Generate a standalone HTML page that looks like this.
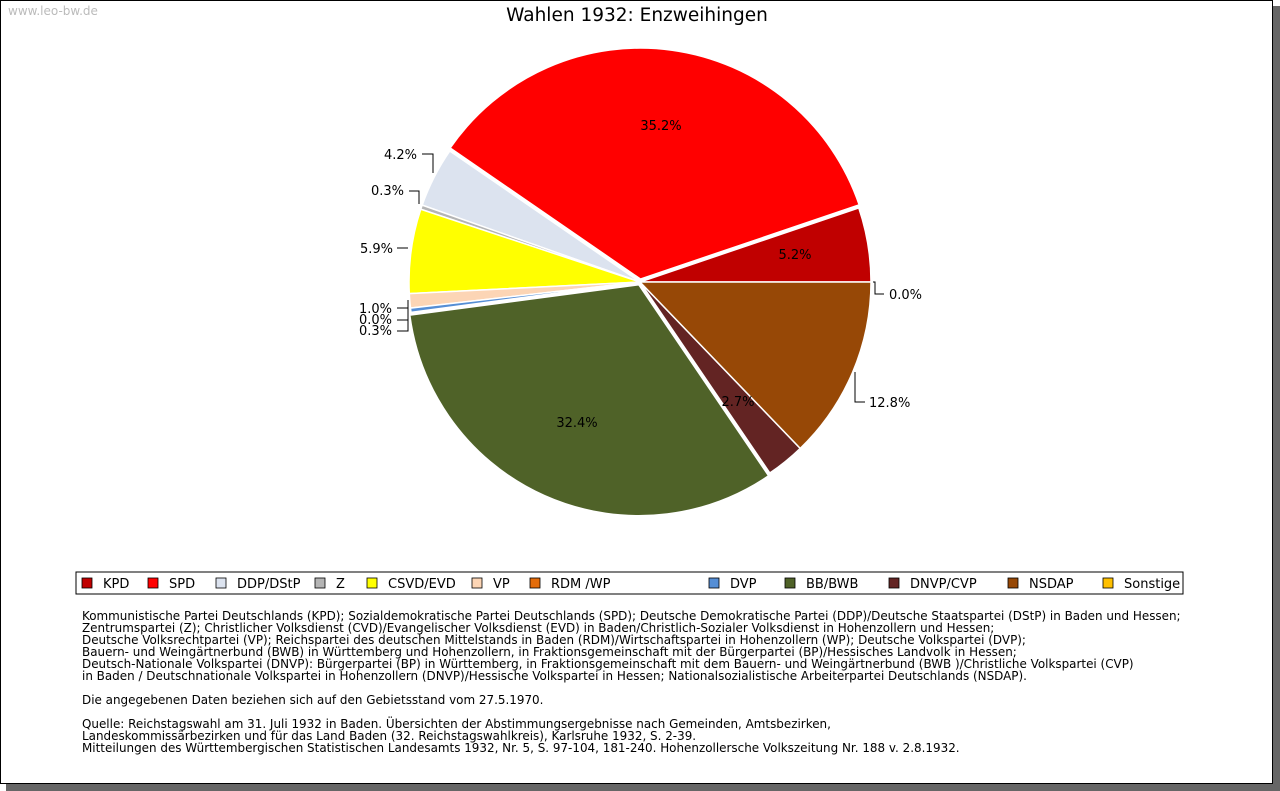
<!DOCTYPE html>
<html><head><meta charset="utf-8"><style>
body{margin:0;background:#fff;width:1280px;height:791px;overflow:hidden;position:relative;font-family:"DejaVu Sans","Liberation Sans",sans-serif}
#frame{position:absolute;left:0;top:0;width:1271px;height:782px;border:1px solid #000;background:#fff}
#shadow-r{position:absolute;left:1273px;top:6px;width:7px;height:785px;background:#666}
#shadow-b{position:absolute;left:6px;top:784px;width:1274px;height:7px;background:#666}
.notes{position:absolute;left:82px;top:610px;font-size:11.95px;line-height:12px;color:#000;white-space:pre}
</style></head><body>
<div id="shadow-r"></div>
<div id="shadow-b"></div>
<div id="frame"></div>
<svg id="chart" width="1280" height="791" style="position:absolute;left:0;top:0">
<text x="8" y="15" font-size="12" fill="#bbb" font-family="DejaVu Sans,sans-serif">www.leo-bw.de</text>
<text x="637" y="21" font-size="18.5" text-anchor="middle" font-family="DejaVu Sans,sans-serif">Wahlen 1932: Enzweihingen</text>
<g id="slices"></g><g id="labels" font-size="13" font-family="DejaVu Sans,sans-serif"></g>
<rect x="76" y="572" width="1107" height="22" fill="#fff" stroke="#000"/>
<g id="legend" font-size="13" font-family="DejaVu Sans,sans-serif"></g>
</svg>
<div class="notes">Kommunistische Partei Deutschlands (KPD); Sozialdemokratische Partei Deutschlands (SPD); Deutsche Demokratische Partei (DDP)/Deutsche Staatspartei (DStP) in Baden und Hessen;
Zentrumspartei (Z); Christlicher Volksdienst (CVD)/Evangelischer Volksdienst (EVD) in Baden/Christlich-Sozialer Volksdienst in Hohenzollern und Hessen;
Deutsche Volksrechtpartei (VP); Reichspartei des deutschen Mittelstands in Baden (RDM)/Wirtschaftspartei in Hohenzollern (WP); Deutsche Volkspartei (DVP);
Bauern- und Weingärtnerbund (BWB) in Württemberg und Hohenzollern, in Fraktionsgemeinschaft mit der Bürgerpartei (BP)/Hessisches Landvolk in Hessen;
Deutsch-Nationale Volkspartei (DNVP): Bürgerpartei (BP) in Württemberg, in Fraktionsgemeinschaft mit dem Bauern- und Weingärtnerbund (BWB )/Christliche Volkspartei (CVP)
in Baden / Deutschnationale Volkspartei in Hohenzollern (DNVP)/Hessische Volkspartei in Hessen; Nationalsozialistische Arbeiterpartei Deutschlands (NSDAP).

Die angegebenen Daten beziehen sich auf den Gebietsstand vom 27.5.1970.

Quelle: Reichstagswahl am 31. Juli 1932 in Baden. Übersichten der Abstimmungsergebnisse nach Gemeinden, Amtsbezirken,
Landeskommissärbezirken und für das Land Baden (32. Reichstagswahlkreis), Karlsruhe 1932, S. 2-39.
Mitteilungen des Württembergischen Statistischen Landesamts 1932, Nr. 5, S. 97-104, 181-240. Hohenzollersche Volkszeitung Nr. 188 v. 2.8.1932.</div>
<script>
const parties = ["KPD","SPD","DDP/DStP","Z","CSVD/EVD","VP","RDM /WP","DVP","BB/BWB","DNVP/CVP","NSDAP","Sonstige"];
const shares = [5.2,35.2,4.2,0.3,5.9,1.0,0.0,0.3,32.4,2.7,12.8,0.0];
const colors = ["#c00000","#ff0000","#dce3ef","#b4b4b4","#ffff00","#fcd5b5","#e46c0a","#558ed5","#4f6228","#632423","#974806","#ffc000"];
const explode = [0,3,0,0,0,0,0,0,3,0,0,0];
const legendX = [82,148,216,315,367,472,530,709,785,889,1008,1103];
const insideLbl = {0:[795,259],1:[661,130],8:[577,427],9:[738,406]};
const outsideLbl = {
 2:{pts:[[433,173],[433,154],[422,154]],t:[417,159,"end"]},
 3:{pts:[[419,204],[419,191],[409,191]],t:[404,195,"end"]},
 4:{pts:[[408,248],[397,248]],t:[393,253,"end"]},
 5:{pts:[[408,300],[408,308],[397,308]],t:[392,313,"end"]},
 6:{pts:[[408,320],[397,320]],t:[392,324,"end"]},
 7:{pts:[[408,308],[408,331],[397,331]],t:[392,335,"end"]},
 11:{pts:[[873,282],[875,282],[875,294],[884,294]],t:[889,299,"start"]},
 10:{pts:[[855,372],[855,402],[865,402]],t:[869,407,"start"]}
};
const cx=640, cy=282, R=231;
const NS="http://www.w3.org/2000/svg";
const gS=document.getElementById('slices'), gL=document.getElementById('labels'), gG=document.getElementById('legend');
const total=shares.reduce((a,b)=>a+b,0);
let a0=0;
shares.forEach((v,i)=>{
  const a1=a0+v/total*2*Math.PI;
  if(v>0){
    const mid=(a0+a1)/2, dx=Math.cos(mid)*explode[i], dy=-Math.sin(mid)*explode[i];
    const x0=cx+dx+R*Math.cos(a0), y0=cy+dy-R*Math.sin(a0), x1=cx+dx+R*Math.cos(a1), y1=cy+dy-R*Math.sin(a1);
    const p=document.createElementNS(NS,'path');
    p.setAttribute('d',`M${cx+dx},${cy+dy}L${x0},${y0}A${R},${R} 0 ${(a1-a0)>Math.PI?1:0} 0 ${x1},${y1}Z`);
    p.setAttribute('fill',colors[i]);p.setAttribute('stroke','#fff');p.setAttribute('stroke-width','1.5');
    
    
    gS.appendChild(p);
  }
  const lbl=v.toFixed(1)+'%';
  if(insideLbl[i]){
    const t=document.createElementNS(NS,'text');
    t.setAttribute('x',insideLbl[i][0]);t.setAttribute('y',insideLbl[i][1]);t.setAttribute('text-anchor','middle');
    t.textContent=lbl;
    
    
    gL.appendChild(t);
  } else if(outsideLbl[i]){
    const o=outsideLbl[i];
    const pl=document.createElementNS(NS,'polyline');
    pl.setAttribute('points',o.pts.map(p=>p.join(',')).join(' '));
    pl.setAttribute('fill','none');pl.setAttribute('stroke','#000');
    
    
    gL.appendChild(pl);
    const t=document.createElementNS(NS,'text');
    t.setAttribute('x',o.t[0]);t.setAttribute('y',o.t[1]);t.setAttribute('text-anchor',o.t[2]);
    t.textContent=lbl;
    
    
    gL.appendChild(t);
  }
  a0=a1;
});
parties.forEach((p,i)=>{
  const g=document.createElementNS(NS,'g');
  
  
  const r=document.createElementNS(NS,'rect');
  r.setAttribute('x',legendX[i]);r.setAttribute('y',578);r.setAttribute('width',10);r.setAttribute('height',10);
  r.setAttribute('fill',colors[i]);r.setAttribute('stroke','#000');r.setAttribute('stroke-width','0.8');
  const t=document.createElementNS(NS,'text');
  t.setAttribute('x',legendX[i]+21);t.setAttribute('y',588);t.textContent=p;
  g.appendChild(r);g.appendChild(t);gG.appendChild(g);
});
</script>
</body></html>
